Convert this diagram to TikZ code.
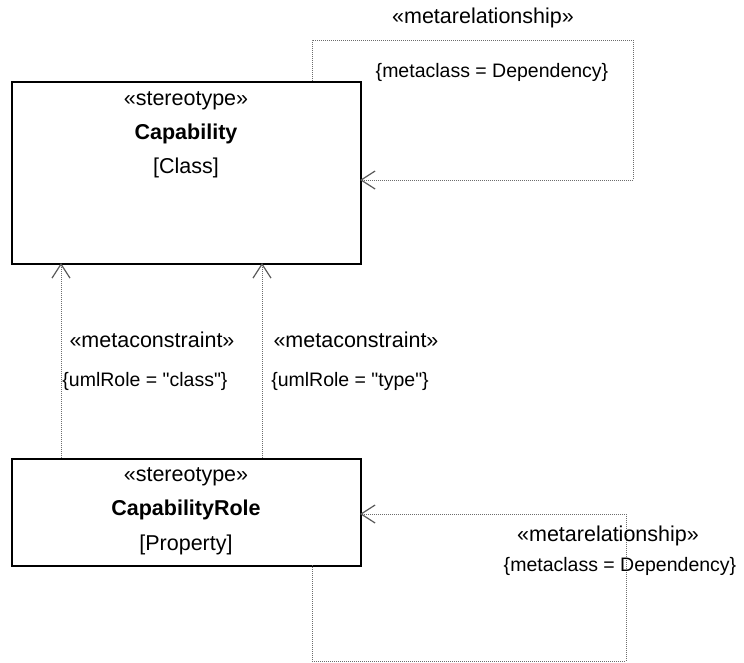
\documentclass[tikz,border=0pt]{standalone}
\usepackage{fontspec}
\setmainfont{Liberation Sans}[Ligatures=TeXOff]
\usetikzlibrary{arrows.meta}
\begin{document}
\begin{tikzpicture}[x=1pt,y=-1pt,
  umlbox/.style={draw=black,line width=1.6pt,fill=white},
  lbl/.style={font=\fontsize{21.5}{25}\selectfont,inner sep=0pt,anchor=center},
  sml/.style={font=\fontsize{19.5}{23}\selectfont,inner sep=0pt,anchor=center},
  rel/.style={draw=gray!85!black,line width=1pt,densely dotted,-{Straight Barb[length=14pt,width=18pt,line width=1.2pt,gray!70!black]}}]
\useasboundingbox (0,0) rectangle (744,662);
% boxes
\node[umlbox,minimum width=349pt,minimum height=182pt,anchor=north west,inner sep=0pt] (cap) at (11,81) {};
\node[umlbox,minimum width=349pt,minimum height=107pt,anchor=north west,inner sep=0pt] (role) at (11,458) {};
\node[lbl] (capst) at (186,101) {«stereotype»};
\node[lbl] (capnm) at (186,134) {\textbf{Capability}};
\node[lbl] (capmc) at (186,168) {[Class]};
\node[lbl] (rolest) at (186,477) {«stereotype»};
\node[lbl] (rolenm) at (186,510) {\textbf{CapabilityRole}};
\node[lbl] (rolemc) at (186,545) {[Property]};
% coordinates
\coordinate (t1) at (312,81);
\coordinate (t2) at (312,40);
\coordinate (t3) at (633,40);
\coordinate (t4) at (633,180);
\coordinate (t5) at (360,180);
\coordinate (b1) at (312,565);
\coordinate (b2) at (312,661);
\coordinate (b3) at (626,661);
\coordinate (b4) at (626,514);
\coordinate (b5) at (360,514);
\coordinate (l1) at (61,458);
\coordinate (l2) at (61,263);
\coordinate (r1) at (262,458);
\coordinate (r2) at (262,263);
% connectors
\draw[rel] (t1) -- (t2) -- (t3) -- (t4) -- (t5);
\draw[rel] (b1) -- (b2) -- (b3) -- (b4) -- (b5);
\draw[rel] (l1) -- (l2);
\draw[rel] (r1) -- (r2);
% labels
\node[lbl] (tm) at (483,18) {«metarelationship»};
\node[sml] (tc) at (492,72) {\{metaclass = Dependency\}};
\node[lbl] (lm) at (152,340) {«metaconstraint»};
\node[sml] (lc) at (145,381) {\{umlRole = "class"\}};
\node[lbl] (rm) at (356,340) {«metaconstraint»};
\node[sml] (rc) at (350,381) {\{umlRole = "type"\}};
\node[lbl] (bm) at (608,536) {«metarelationship»};
\node[sml] (bc) at (620,566) {\{metaclass = Dependency\}};
\end{tikzpicture}
\end{document}
